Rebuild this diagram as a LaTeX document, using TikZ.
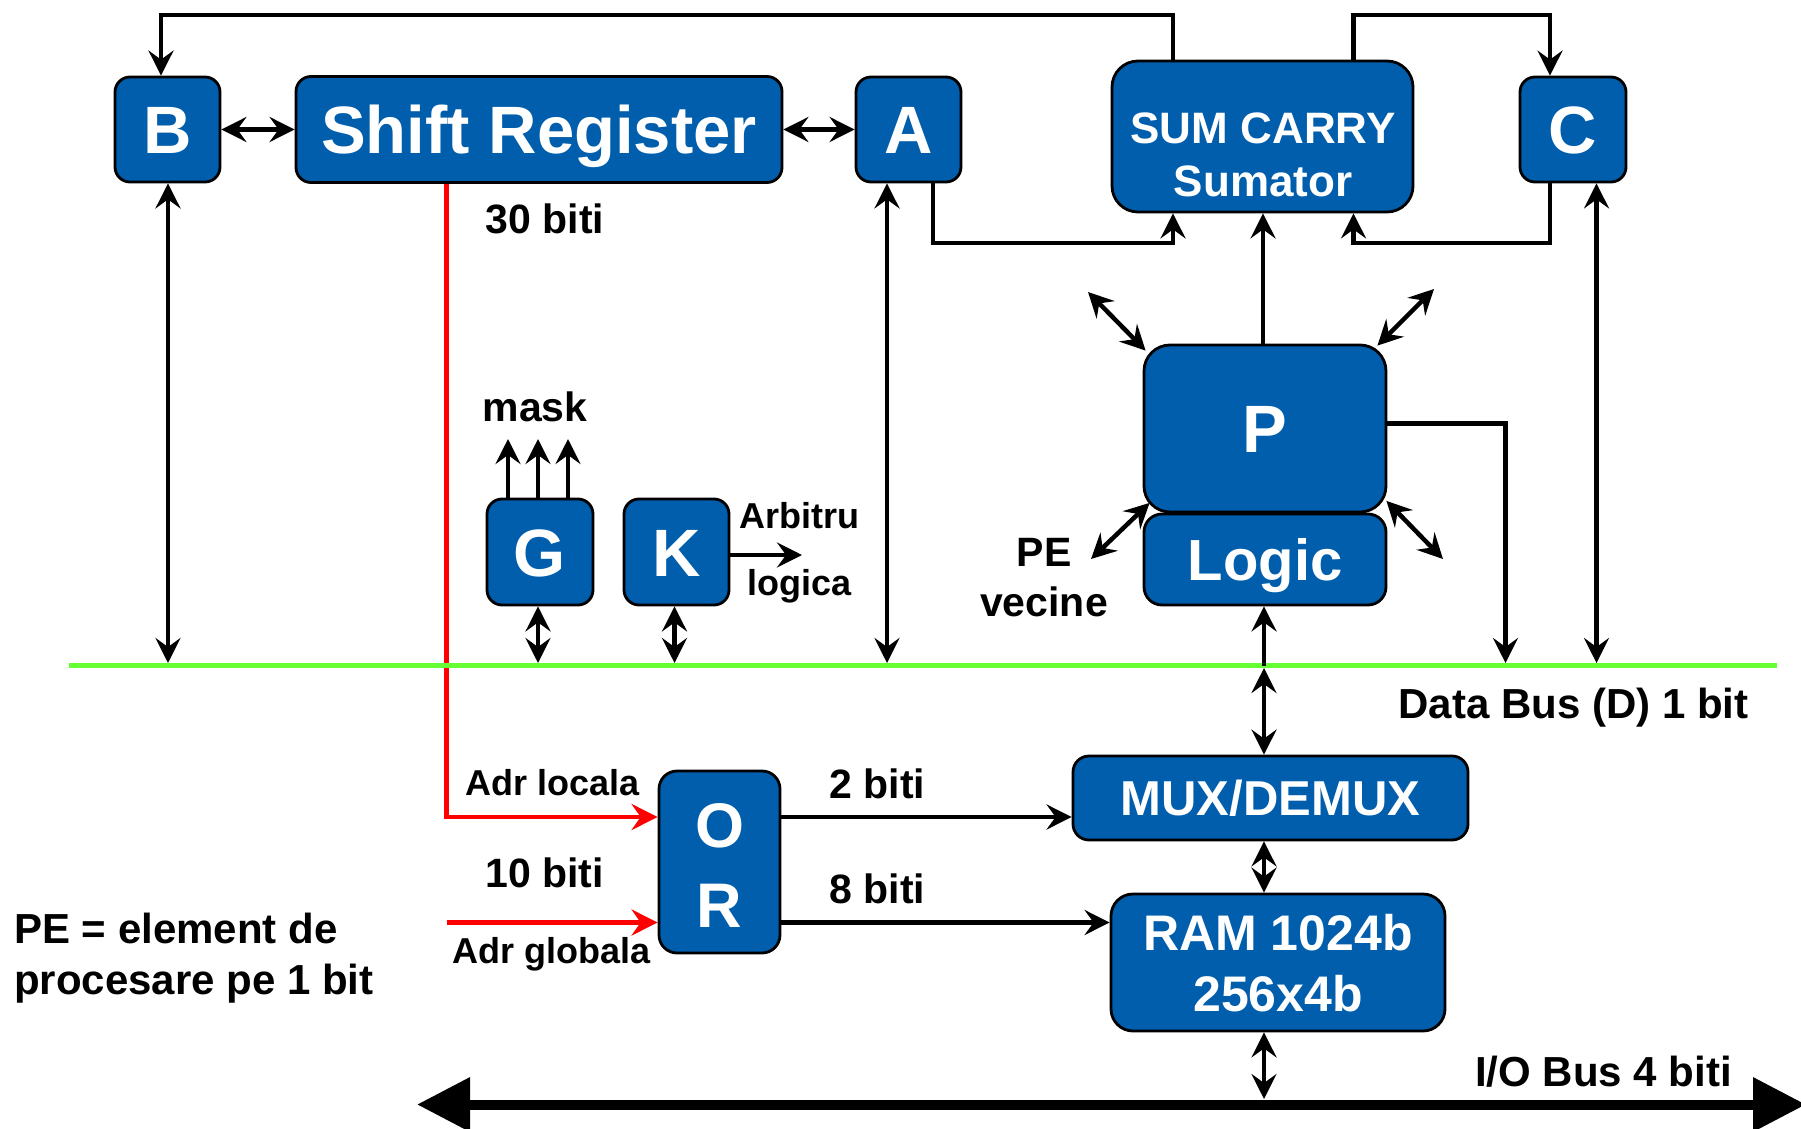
\documentclass[tikz,border=0pt]{standalone}
\usepackage{fontspec}
\setmainfont{Liberation Sans}
\usetikzlibrary{arrows.meta}
\definecolor{boxblue}{RGB}{0,94,172}
\definecolor{busgreen}{RGB}{102,255,51}
\begin{document}
\begin{tikzpicture}[x=1pt,y=-1pt,
  blk/.style={draw=black,line width=2.8pt,fill=boxblue,text=white,inner sep=0pt,rounded corners=#1,text depth=0pt},
  blk/.default=15pt,
  fnt/.style={font=\fontsize{#1pt}{#1pt}\selectfont\bfseries},
  lbl/.style={inner sep=0pt,anchor=base,text=black},
  lblw/.style={inner sep=0pt,anchor=base west,text=black},
  ln/.style={line width=4.5pt,line cap=butt},
  ar/.style={ln,-{Stealth[length=25pt,width=25pt,inset=9pt]}},
  dar/.style={ln,{Stealth[length=25pt,width=25pt,inset=9pt]}-{Stealth[length=25pt,width=25pt,inset=9pt]}},
  rar/.style={ln,draw=red,-{Stealth[length=26pt,width=26pt,inset=9pt,fill=red]}},
]
\fill[white] (0,0) rectangle (1801,1129);
\useasboundingbox (0,0) rectangle (1801,1129);

% boxes
\node[blk,fnt=67,text height=48pt,minimum width=105pt,minimum height=105pt] (B) at (167.5,129.5) {B};
\node[blk,fnt=67,text height=48pt,minimum width=486pt,minimum height=106pt] (SR) at (539,129.5) {Shift Register};
\node[blk,fnt=67,text height=48pt,minimum width=105pt,minimum height=105pt] (A) at (908.5,129.5) {A};
\node[blk,fnt=67,text height=48pt,minimum width=106pt,minimum height=105pt] (C) at (1573,129.5) {C};
\node[blk=26pt,minimum width=301pt,minimum height=151pt] (SUM) at (1262.5,136.5) {};
\node[blk=26pt,fnt=67,text height=48pt,minimum width=242pt,minimum height=167pt] (P) at (1265,428.5) {P};
\node[blk=18pt,fnt=58,text height=41.5pt,minimum width=242pt,minimum height=91pt] (Logic) at (1265,559.5) {Logic};
\node[blk,fnt=67,text height=48pt,minimum width=106pt,minimum height=106pt] (G) at (540,552) {G};
\node[blk,fnt=67,text height=48pt,minimum width=105pt,minimum height=106pt] (K) at (676.5,552) {K};
\node[blk=18pt,minimum width=121pt,minimum height=182pt] (OR) at (719.5,862) {};
\node[blk=16pt,fnt=49,text height=35pt,minimum width=395pt,minimum height=84pt] (MUX) at (1270.5,798) {MUX/DEMUX};
\node[blk=22pt,minimum width=334pt,minimum height=137pt] (RAM) at (1278,962.5) {};

% multi-line box texts
\node[lbl,fnt=44,text=white] (sum1) at (1263,143) {SUM CARRY};
\node[lbl,fnt=44,text=white] (sum2) at (1263,196) {Sumator};
\node[lbl,fnt=63,text=white] (or1) at (719.5,847.5) {O};
\node[lbl,fnt=63,text=white] (or2) at (719.5,927) {R};
\node[lbl,fnt=50,text=white] (ram1) at (1278,950) {RAM 1024b};
\node[lbl,fnt=50,text=white] (ram2) at (1278,1011.5) {256x4b};

% red address lines
\coordinate (r1) at (446.5,817);
\coordinate (r2) at (446.5,922.5);
\draw[rar] (r1 |- SR.south) -- (r1) -- (r1 -| OR.west);
\draw[rar] (r2) -- (r2 -| OR.west);

% data bus
\coordinate (busL) at (69,665.5);
\coordinate (busR) at (1777,665.5);
\draw[line width=5pt,busgreen] (busL) -- (busR);

% top loops
\coordinate (t0) at (161,15);
\coordinate (t1) at (1173,15);
\draw[ar] (t1 |- SUM.north) -- (t1) -- (t0) -- (t0 |- B.north);
\coordinate (t2) at (1353.5,15);
\coordinate (t3) at (1550,15);
\draw[ar] (t2 |- SUM.north) -- (t2) -- (t3) -- (t3 |- C.north);

% A, C into SUM
\coordinate (u0) at (933,243);
\coordinate (u1) at (1173,243);
\draw[ar] (u0 |- A.south) -- (u0) -- (u1) -- (u1 |- SUM.south);
\coordinate (u3) at (1550,243);
\coordinate (u2) at (1353.5,243);
\draw[ar] (u3 |- C.south) -- (u3) -- (u2) -- (u2 |- SUM.south);

% P into SUM
\coordinate (pt) at (1263,345);
\draw[ar] (pt |- P.north) -- (pt |- SUM.south);

% register chain
\draw[dar] (B.east) -- (SR.west);
\draw[dar] (SR.east) -- (A.west);

% to data bus
\coordinate (bB) at (168,663);
\draw[dar] (bB |- B.south) -- (bB);
\coordinate (bA) at (887,663);
\draw[dar] (bA |- A.south) -- (bA);
\coordinate (bG) at (538,663);
\draw[dar] (bG |- G.south) -- (bG);
\coordinate (bK) at (674.5,663);
\draw[dar] (bK |- K.south) -- (bK);
\coordinate (bC) at (1596.5,663);
\draw[dar] (bC |- C.south) -- (bC);
\coordinate (pr) at (1505.5,423.5);
\coordinate (bP) at (1505.5,663);
\draw[ar] (pr -| P.east) -- (pr) -- (bP);

% Logic / MUX / RAM / IO column
\coordinate (bL) at (1264,665.5);
\draw[ar] (bL) -- (bL |- Logic.south);
\coordinate (bL2) at (1264,668);
\draw[dar] (bL2) -- (bL2 |- MUX.north);
\draw[dar] (bL |- MUX.south) -- (bL |- RAM.north);
\coordinate (ioT) at (1264,1099);
\draw[dar] (ioT |- RAM.south) -- (ioT);

% mask arrows
\foreach \i/\x in {1/508,2/538,3/568}{
  \coordinate (m\i) at (\x,439);
  \draw[ar] (m\i |- G.north) -- (m\i);
}
% arbitration output
\coordinate (ka) at (802,555);
\draw[ar] (ka -| K.east) -- (ka);

% OR outputs
\draw[ar] (r1 -| OR.east) -- (r1 -| MUX.west);
\draw[ar] (r2 -| OR.east) -- (r2 -| RAM.west);

% neighbour PE links
\coordinate (dTL) at (1088,292);
\draw[dar] (dTL) -- ([shift={(3,7)}]P.north west);
\coordinate (dTR) at (1434,289);
\draw[dar] (dTR) -- ([shift={(-10,2)}]P.north east);
\coordinate (dBL) at (1091,559);
\draw[dar] (dBL) -- ([shift={(7,-10.5)}]P.south west);
\coordinate (dBR) at (1443,559);
\draw[dar] (dBR) -- ([shift={(-1,-12.5)}]P.south east);

% I/O bus
\coordinate (ioL) at (417,1104.5);
\coordinate (ioR) at (1806,1104.5);
\draw[line width=10pt,{Triangle[length=53pt,width=52pt]}-{Triangle[length=53pt,width=52pt]}] (ioL) -- (ioR);

% labels
\node[lbl,fnt=41] (l30) at (545,233) {30 biti};
\node[lbl,fnt=41] (lmask) at (535,421) {mask};
\node[lbl,fnt=36] (larb) at (799,528) {Arbitru};
\node[lbl,fnt=36] (llog) at (799.5,595) {logica};
\node[lbl,fnt=36] (ladrl) at (553,795) {Adr locala};
\node[lbl,fnt=41] (l10) at (544.5,887) {10 biti};
\node[lbl,fnt=36] (ladrg) at (552,963.5) {Adr globala};
\node[lblw,fnt=42] (lpe1) at (14,943) {PE = element de};
\node[lblw,fnt=42] (lpe2) at (14,994) {procesare pe 1 bit};
\node[lbl,fnt=41] (l2) at (877.5,798) {2 biti};
\node[lbl,fnt=41] (l8) at (877.5,903) {8 biti};
\node[lbl,fnt=42] (ldb) at (1573.5,718) {Data Bus (D) 1 bit};
\node[lbl,fnt=42] (lio) at (1603.5,1086) {I/O Bus 4 biti};
\node[lbl,fnt=41] (lpe) at (1044,566) {PE};
\node[lbl,fnt=41] (lvec) at (1044,616) {vecine};
\end{tikzpicture}
\end{document}
